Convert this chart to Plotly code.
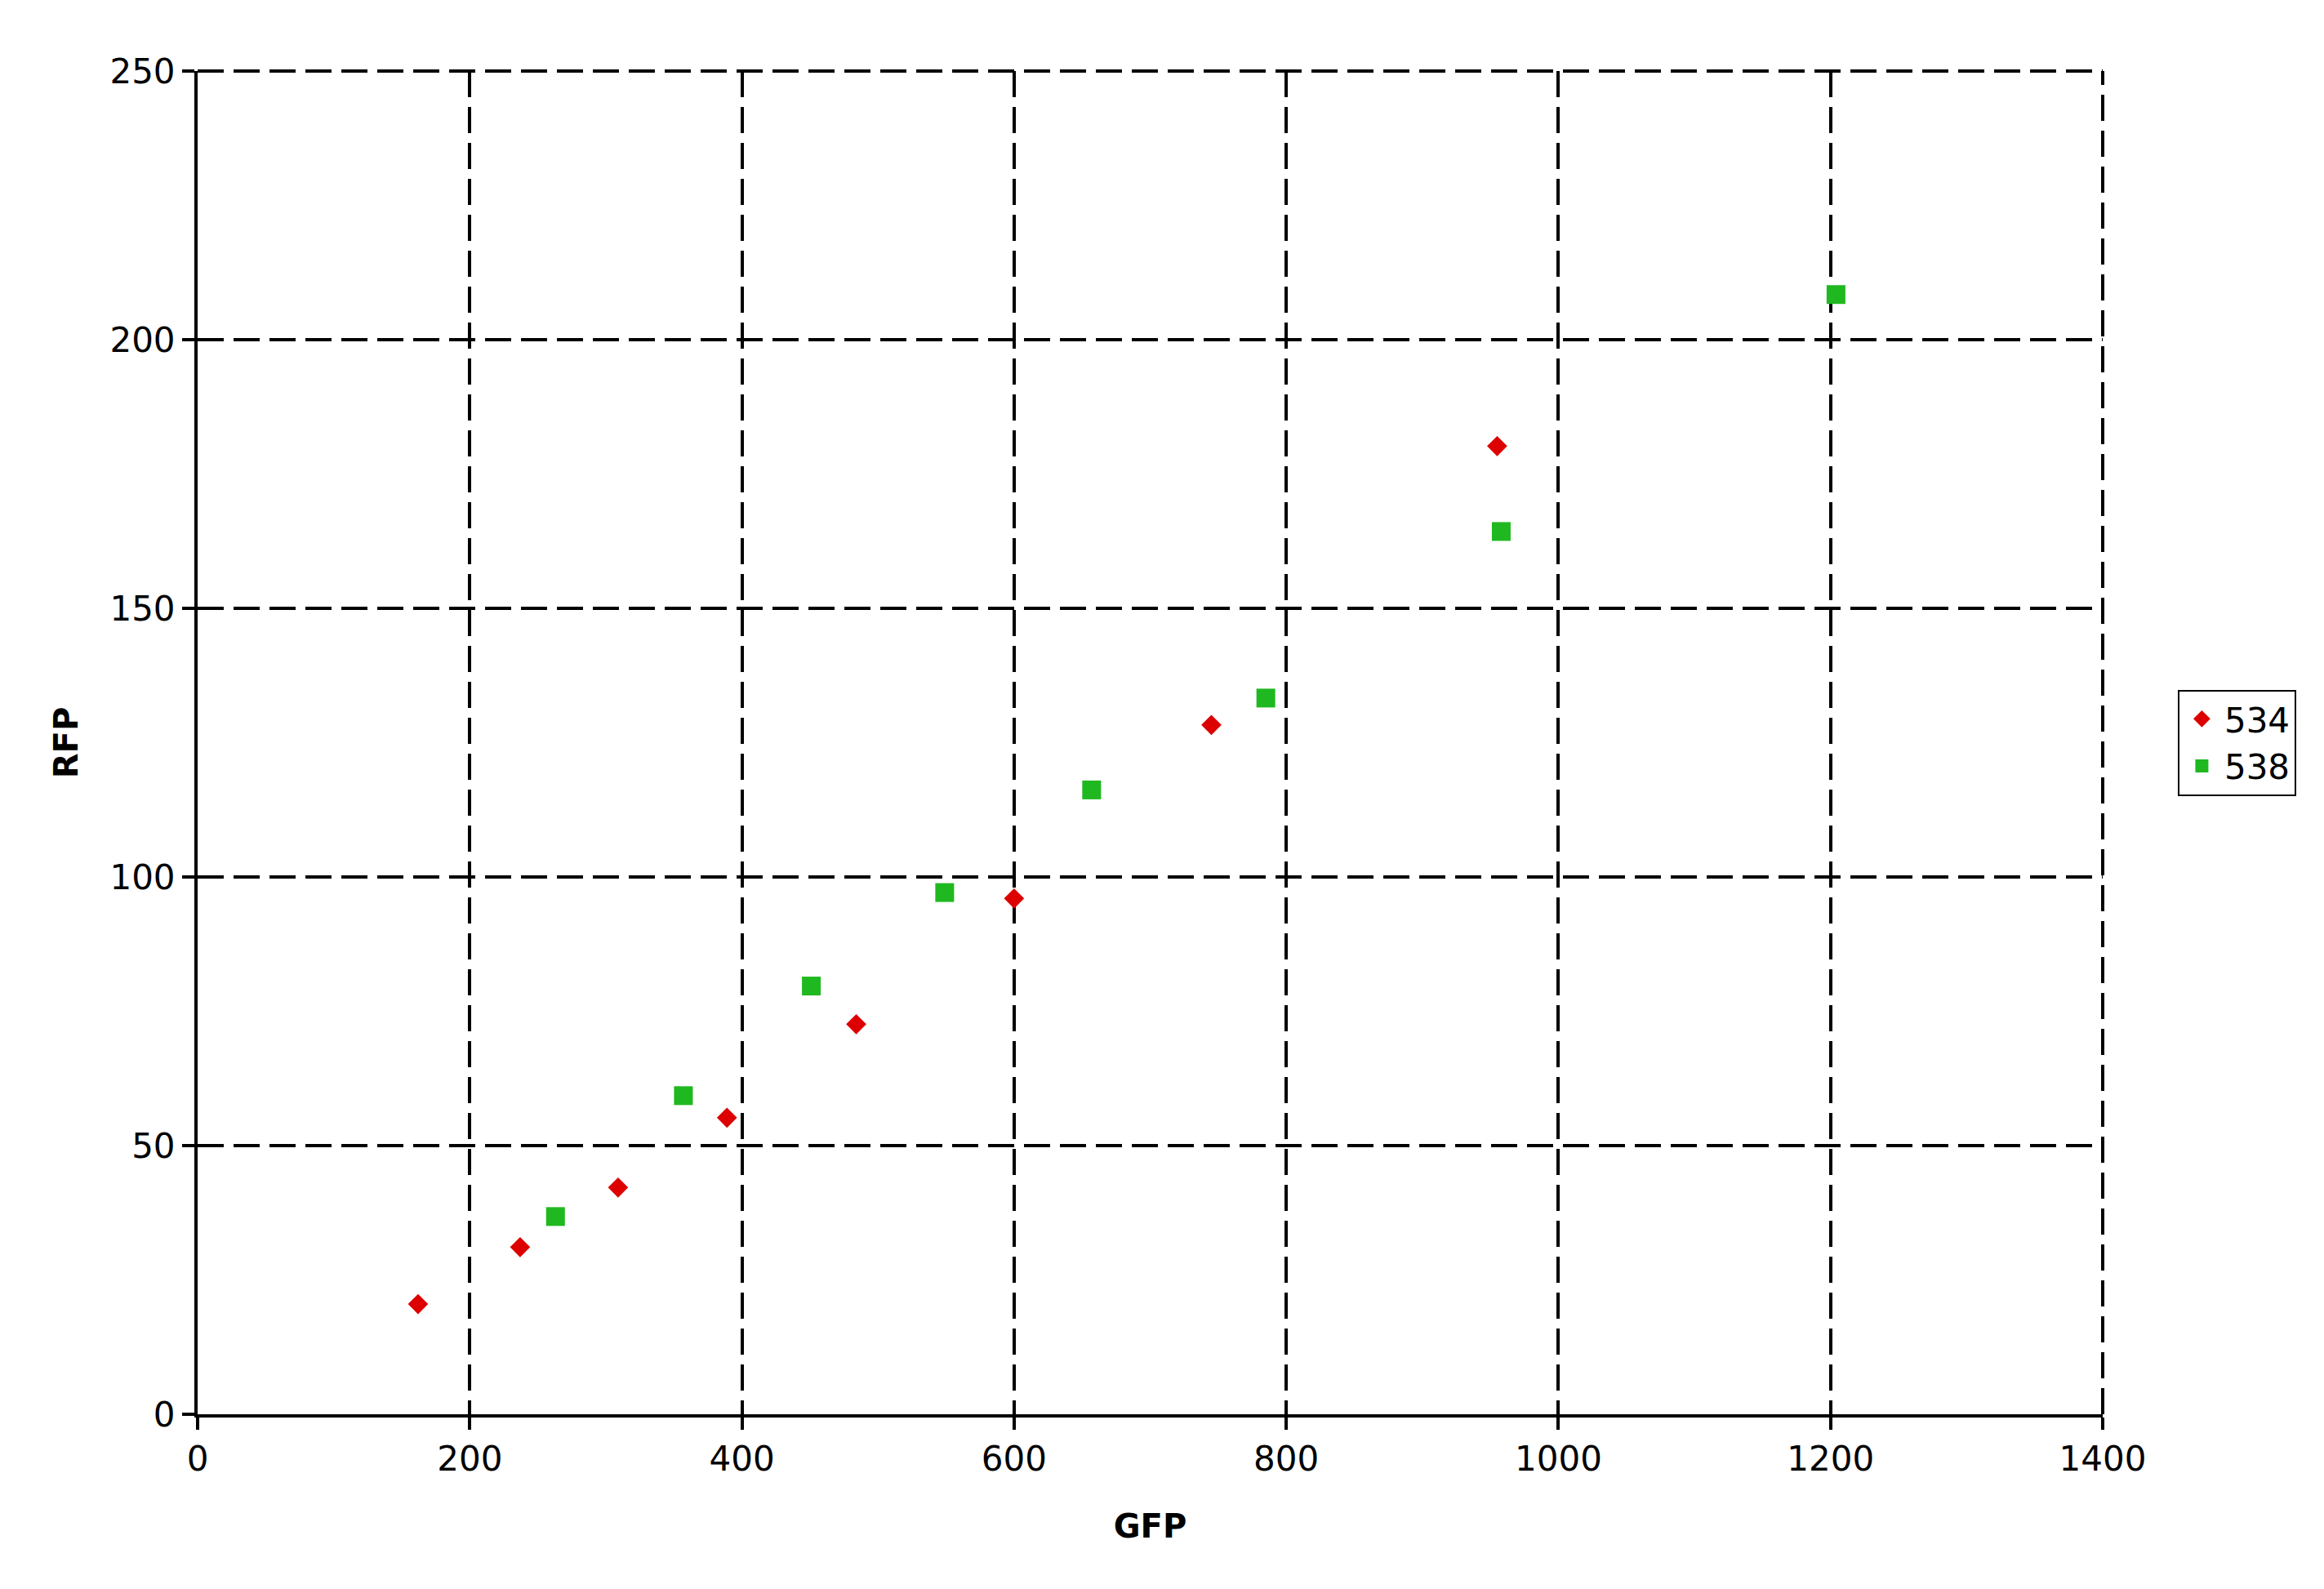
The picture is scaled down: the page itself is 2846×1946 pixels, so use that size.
import plotly.graph_objects as go

# Series 534 (red diamonds)
gfp_534 = [162, 237, 309, 389, 484, 600, 745, 955]
rfp_534 = [20.5, 31.1, 42.2, 55.2, 72.6, 96.0, 128.3, 180.2]

# Series 538 (green squares)
gfp_538 = [263, 357, 451, 549, 657, 785, 958, 1204]
rfp_538 = [36.8, 59.3, 79.7, 97.1, 116.2, 133.3, 164.3, 208.4]

x_ticks = [0, 200, 400, 600, 800, 1000, 1200, 1400]
y_ticks = [0, 50, 100, 150, 200, 250]

FONT = "DejaVu Sans, Verdana, sans-serif"
DASH = "32px,12px"

fig = go.Figure()
fig.add_trace(go.Scatter(
    x=gfp_534, y=rfp_534, mode="markers", name="534",
    marker=dict(symbol="diamond", size=19, color="#DD0000", line=dict(width=0)),
))
fig.add_trace(go.Scatter(
    x=gfp_538, y=rfp_538, mode="markers", name="538",
    marker=dict(symbol="square", size=23, color="#20B820", line=dict(width=0)),
))

axis_common = dict(
    showline=True, linecolor="black", linewidth=4,
    showgrid=True, gridcolor="black", gridwidth=4, griddash=DASH,
    zeroline=False,
    ticks="outside", ticklen=15, tickwidth=4, tickcolor="black",
    tickfont=dict(family=FONT, size=42, color="black"),
)

fig.update_xaxes(
    range=[0, 1400], tickvals=x_ticks, ticktext=[str(v) for v in x_ticks],
    title=dict(text="<b>GFP</b>", font=dict(family=FONT, size=40, color="black"), standoff=46),
    **axis_common,
)
fig.update_yaxes(
    range=[0, 250], tickvals=y_ticks, ticktext=[str(v) for v in y_ticks],
    title=dict(text="<b>RFP</b>", font=dict(family=FONT, size=40, color="black"), standoff=27),
    **axis_common,
)

# Gridlines at the top and right range edges (Plotly omits edge gridlines)
fig.add_shape(type="line", xref="paper", yref="paper", x0=0, x1=1, y0=1, y1=1,
              line=dict(color="black", width=4, dash=DASH), layer="below")
fig.add_shape(type="line", xref="paper", yref="paper", x0=1, x1=1, y0=0, y1=1,
              line=dict(color="black", width=4, dash=DASH), layer="below")

fig.update_layout(
    width=2846, height=1946,
    margin=dict(l=234, r=279, t=79, b=222, autoexpand=False),
    paper_bgcolor="white", plot_bgcolor="white",
    font=dict(family=FONT, size=40, color="black"),
    legend=dict(
        x=1.0394, y=0.5, xanchor="left", yanchor="middle",
        xref="paper", yref="paper",
        bordercolor="black", borderwidth=2, bgcolor="white",
        font=dict(family=FONT, size=42, color="black"),
        itemsizing="trace", itemwidth=45, tracegroupgap=0,
    ),
)

fig.write_html("out.html")
